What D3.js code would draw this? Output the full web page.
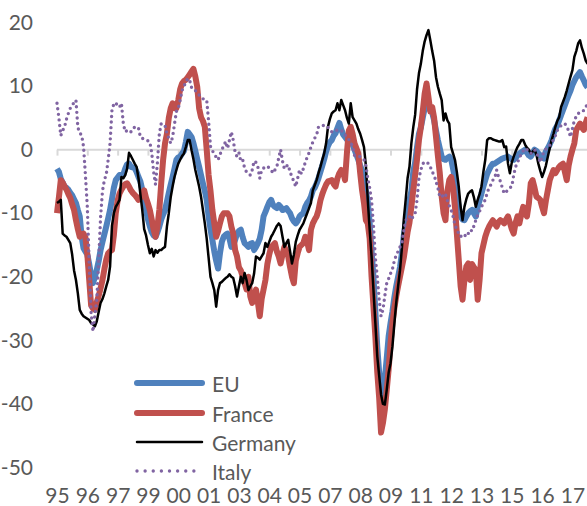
<!DOCTYPE html>
<html>
<head>
<meta charset="utf-8">
<script src="https://cdn.jsdelivr.net/npm/d3@7"></script>
<style>
  html, body { margin: 0; padding: 0; background: #fff; }
  svg { display: block; }
  text { font-family: Lato, "Open Sans", sans-serif; fill: #595959; }
</style>
</head>
<body>
<svg id="chart" width="587" height="506"></svg>
<script>
// Monthly balances, January 1995 onwards (one row per year)
const startYear = 1995;

const eu = [
  -3.0,-3.5,-4.6,-5.2,-5.8,-6.0,-6.3,-6.8,-7.2,-7.8,-8.4,-9.5,
  -10.5,-13.7,-15.5,-16.0,-16.5,-18.0,-19.8,-21.0,-20.0,-18.9,-17.5,-15.8,
  -14.5,-13.3,-12.1,-10.8,-9.5,-7.8,-6.0,-4.8,-4.4,-4.0,-4.0,-3.9,
  -3.0,-2.3,-2.2,-2.7,-2.8,-2.9,-3.5,-4.3,-5.0,-6.3,-7.9,-9.5,
  -11.0,-12.1,-13.0,-13.5,-13.7,-13.0,-12.1,-11.0,-10.2,-9.5,-8.2,-6.8,
  -5.5,-4.3,-3.0,-1.6,-1.2,-1.1,-0.6,-0.2,1.2,2.8,2.4,2.0,
  1.0,-0.2,-1.5,-2.7,-4.0,-5.3,-6.5,-7.9,-10.5,-12.5,-14.2,-16.0,
  -17.5,-18.7,-16.3,-14.5,-13.7,-13.4,-13.2,-14.0,-15.3,-15.0,-14.2,-13.2,
  -12.8,-12.6,-13.8,-14.7,-15.0,-15.3,-14.8,-14.7,-15.8,-15.3,-14.7,-14.0,
  -12.6,-10.5,-9.8,-9.0,-8.3,-7.9,-8.7,-9.0,-9.2,-8.7,-9.0,-9.5,
  -9.4,-9.2,-9.6,-10.0,-10.8,-11.3,-11.6,-11.2,-10.5,-10.2,-10.0,-9.0,
  -8.4,-8.0,-7.4,-6.4,-6.0,-5.3,-4.5,-3.5,-2.5,-1.5,-0.3,0.6,
  1.2,1.5,2.2,2.6,3.4,4.2,3.2,2.4,2.0,1.6,1.5,1.4,
  0.8,0.0,-0.8,-1.6,-2.5,-3.3,-4.8,-6.5,-8.2,-11.5,-15.8,-20.0,
  -25.5,-31.0,-35.0,-38.0,-38.8,-36.0,-32.8,-29.4,-27.3,-25.5,-23.3,-21.5,
  -20.0,-18.5,-16.3,-13.5,-11.5,-10.3,-8.0,-6.5,-3.5,-2.0,0.4,2.5,
  3.5,5.0,6.5,8.3,7.0,6.2,5.8,4.6,3.0,1.5,0.2,-1.1,
  -1.5,-1.6,-1.3,-1.1,-1.5,-3.0,-4.5,-7.0,-9.0,-10.5,-11.0,-11.1,
  -10.5,-10.0,-9.7,-9.5,-10.0,-10.5,-9.0,-8.0,-6.9,-5.8,-4.8,-3.8,
  -3.2,-2.6,-2.2,-2.2,-2.0,-1.8,-1.6,-1.4,-1.3,-1.2,-1.1,-1.3,
  -1.5,-1.6,-1.3,-0.9,-0.6,-0.4,-0.2,0.0,-0.5,-0.9,-1.1,-0.6,
  0.0,-0.2,-0.6,-0.9,-1.2,-1.4,-0.3,0.2,0.8,1.5,2.5,3.3,
  3.8,4.6,5.4,6.2,7.0,7.8,8.6,9.3,10.2,10.8,11.4,11.8,
  12.2,11.5,10.9,10.2,9.8
];

const france = [
  -10.0,-7.5,-4.8,-5.2,-5.8,-6.3,-7.0,-7.6,-8.6,-9.5,-11.1,-12.5,
  -13.7,-13.4,-13.2,-13.8,-16.5,-20.5,-24.5,-25.0,-25.2,-24.0,-23.0,-21.8,
  -20.5,-18.8,-17.3,-16.3,-16.0,-15.8,-13.5,-10.0,-8.0,-6.9,-6.3,-5.8,
  -5.4,-5.3,-5.8,-6.4,-6.8,-7.1,-7.5,-7.9,-7.6,-7.0,-6.4,-7.6,
  -8.5,-9.5,-11.0,-12.6,-13.7,-12.1,-9.5,-5.3,-1.6,1.0,2.5,5.0,
  6.5,7.3,6.5,6.5,7.8,9.5,10.4,10.8,11.0,11.4,11.8,12.3,
  12.7,11.5,9.9,6.5,5.1,4.5,3.6,0.0,-4.0,-6.5,-9.5,-11.6,
  -13.7,-12.8,-11.6,-10.5,-10.0,-10.0,-10.0,-10.5,-12.1,-13.2,-15.8,-16.8,
  -18.5,-19.0,-20.0,-21.0,-22.0,-20.0,-23.1,-24.1,-23.0,-22.0,-24.0,-26.2,
  -23.5,-22.0,-20.5,-18.0,-16.5,-15.3,-15.0,-14.7,-16.0,-16.8,-17.9,-16.5,
  -15.3,-16.0,-16.8,-18.5,-20.0,-21.0,-17.5,-16.3,-15.3,-15.0,-14.7,-13.7,
  -14.5,-15.8,-12.6,-11.6,-11.0,-10.5,-9.5,-8.0,-7.0,-6.2,-5.5,-5.0,
  -4.9,-4.8,-5.4,-5.8,-4.5,-3.7,-3.2,-3.5,-4.8,-0.5,3.0,3.6,
  2.5,1.0,0.2,-0.6,-3.7,-6.4,-8.4,-11.1,-11.6,-14.0,-20.0,-24.7,
  -29.4,-35.0,-39.0,-44.5,-43.0,-40.9,-37.8,-34.6,-30.5,-27.3,-25.0,-23.1,
  -21.5,-20.0,-18.5,-17.0,-15.0,-13.0,-11.5,-9.0,-6.4,-4.0,-1.5,1.5,
  3.5,6.0,8.8,10.4,8.3,6.0,6.7,5.0,2.0,-1.0,-3.7,-7.4,
  -10.0,-11.1,-6.5,-4.8,-4.3,-6.0,-9.0,-13.2,-17.3,-21.5,-23.6,-20.5,
  -18.4,-17.9,-20.5,-18.0,-18.5,-18.9,-23.6,-20.5,-16.3,-15.0,-13.7,-12.8,
  -12.1,-11.6,-11.1,-11.6,-12.1,-11.4,-11.1,-11.3,-11.6,-11.0,-10.5,-11.5,
  -12.5,-13.2,-11.5,-10.5,-11.6,-10.2,-9.0,-10.0,-10.5,-8.5,-5.3,-4.8,
  -6.0,-7.4,-7.6,-7.9,-9.0,-10.0,-8.0,-6.4,-4.8,-4.0,-3.2,-3.7,
  -3.2,-2.7,-2.4,-2.2,-3.5,-4.8,-2.5,-1.1,0.0,1.0,3.1,3.6,
  4.1,3.5,3.1,4.2,5.1
];

const germany = [
  -8.4,-8.2,-7.9,-13.2,-13.5,-13.7,-14.2,-14.7,-16.5,-19.0,-20.5,-22.6,
  -25.2,-25.8,-26.2,-26.4,-26.6,-26.8,-27.3,-27.5,-27.8,-27.0,-25.5,-24.1,
  -23.5,-22.6,-21.5,-20.5,-18.4,-12.0,-10.0,-9.0,-8.5,-7.9,-4.3,-4.5,
  -4.0,-3.0,-0.5,-1.0,-1.6,-2.2,-2.7,-4.5,-7.0,-9.5,-12.5,-13.5,
  -15.0,-16.3,-15.6,-16.8,-15.8,-16.2,-15.8,-15.8,-15.5,-15.3,-12.1,-10.0,
  -7.5,-5.8,-4.3,-3.2,-2.2,-1.6,-1.0,-0.6,0.4,1.5,1.5,-0.1,
  -1.5,-3.2,-4.5,-5.8,-7.4,-9.5,-11.6,-14.0,-17.0,-20.0,-21.0,-22.1,
  -24.7,-22.1,-21.0,-20.8,-20.5,-20.2,-20.0,-19.6,-20.0,-20.2,-21.5,-23.1,
  -21.5,-20.0,-21.0,-19.4,-20.5,-22.1,-21.5,-21.0,-19.5,-16.8,-17.0,-17.3,
  -16.8,-16.3,-14.7,-15.3,-14.5,-13.7,-13.2,-12.6,-12.0,-11.6,-12.0,-13.7,
  -15.3,-14.7,-14.2,-16.0,-17.9,-16.5,-14.5,-13.5,-12.6,-12.1,-11.6,-10.8,
  -10.0,-9.2,-8.4,-6.4,-5.6,-4.8,-3.7,-2.7,-1.6,-0.6,1.0,3.6,
  4.8,5.7,6.0,6.2,7.3,6.2,7.8,7.0,6.2,5.0,4.1,7.3,
  5.1,4.6,4.1,3.2,2.5,1.5,0.4,-2.5,-7.9,-12.6,-16.8,-22.1,
  -27.3,-32.5,-35.5,-38.5,-40.0,-40.1,-37.8,-35.1,-33.6,-31.0,-27.5,-24.1,
  -21.5,-19.0,-15.5,-11.0,-7.9,-4.5,-2.7,1.0,3.5,5.5,9.5,12.0,
  13.5,15.5,17.0,18.0,18.8,17.2,15.5,14.0,11.4,9.9,8.8,7.8,
  4.6,5.7,4.6,4.1,0.4,-0.6,-1.6,-3.5,-5.8,-9.0,-11.1,-9.0,
  -7.8,-6.9,-6.6,-6.4,-7.5,-9.0,-7.9,-7.0,-5.8,-3.5,-1.6,1.5,
  1.8,1.8,1.6,1.5,1.4,1.3,1.3,1.5,0.4,0.5,-2.2,-3.7,
  -2.0,-1.1,-0.3,0.4,0.9,1.5,1.5,0.8,0.3,0.0,-0.6,-0.3,
  0.0,-0.8,-2.2,-3.3,-4.3,-3.5,-2.5,-1.1,0.2,1.5,2.5,3.6,
  4.5,5.1,6.7,7.5,8.3,9.3,10.4,11.5,12.5,14.6,15.5,16.7,
  17.2,16.0,15.1,14.0,13.5
];

const italy = [
  7.3,5.0,2.2,3.0,3.6,4.8,5.7,6.5,7.0,7.4,7.8,3.5,
  2.6,2.3,0.5,-4.0,-9.0,-18.0,-25.7,-28.6,-26.0,-23.6,-17.5,-10.6,
  -6.5,-4.8,-3.9,-1.6,1.0,6.2,7.2,7.4,6.8,6.7,7.3,4.1,
  2.8,3.0,3.1,2.8,3.0,3.6,3.5,3.4,2.0,1.8,1.6,1.5,
  1.4,1.2,-0.5,-3.5,-5.5,-2.0,2.5,4.1,3.9,3.8,2.5,1.8,
  1.0,2.0,4.0,6.0,6.5,7.8,9.3,10.0,10.6,11.2,10.9,9.8,
  9.4,9.3,9.0,8.6,8.3,8.0,7.9,7.8,4.5,0.5,-0.2,-0.6,
  -1.2,-1.6,-0.8,0.0,0.6,1.3,0.2,1.5,2.8,1.5,-0.4,-1.1,
  -0.5,-1.8,-1.6,-2.9,-3.5,-3.8,-4.0,-3.2,-1.8,-2.0,-2.7,-4.5,
  -3.2,-2.9,-2.7,-2.6,-2.9,-3.2,-3.7,-3.2,-2.7,-1.3,0.0,-1.8,
  -3.0,-2.6,-2.4,-3.5,-4.3,-5.0,-5.8,-4.5,-3.2,-3.8,-3.0,-2.0,
  -1.2,-0.5,0.4,1.2,1.8,2.3,3.6,3.7,3.8,3.8,3.8,3.5,
  3.2,2.8,3.0,3.1,3.0,3.1,3.0,2.8,2.3,2.0,1.6,1.2,
  0.4,-0.9,-1.0,-1.0,-1.1,-1.4,-1.6,-2.5,-4.5,-6.0,-8.0,-12.0,
  -17.0,-20.0,-23.5,-26.2,-25.2,-23.0,-21.0,-20.3,-19.5,-18.8,-17.5,-16.6,
  -16.0,-15.3,-14.7,-12.8,-11.2,-10.6,-10.5,-11.0,-10.5,-10.0,-7.9,-4.5,
  -3.2,-2.2,-2.0,-1.9,-2.2,-2.7,-3.5,-4.0,-5.0,-6.0,-7.4,-7.2,
  -7.4,-7.0,-8.0,-8.8,-9.5,-10.5,-11.8,-12.6,-13.2,-13.7,-13.3,-13.4,
  -13.7,-13.2,-12.6,-12.8,-12.0,-11.1,-10.3,-9.7,-9.0,-8.4,-7.9,-6.8,
  -6.0,-5.5,-4.8,-4.5,-3.2,-4.3,-5.0,-6.0,-6.9,-6.6,-6.4,-6.0,
  -5.8,-4.0,-2.7,-2.0,-1.4,-0.6,-0.2,0.2,0.0,-0.3,-0.6,-0.3,
  0.0,-0.5,-1.1,-2.0,-1.2,-0.2,0.1,0.4,0.7,1.0,1.6,2.2,
  3.0,3.4,3.8,4.0,4.1,3.6,3.0,2.0,3.3,4.6,5.2,5.7,
  5.8,5.9,6.2,6.8,7.0
];

// Category labels, one every 16 months starting January 1995
const labelStep = 16;
const xTickLabels = ["95","96","97","99","00","01","03","04","05","07","08","09","11","12","13","15","16","17"];
const yTickValues = [20, 10, 0, -10, -20, -30, -40, -50];

const seriesNames = ["EU", "France", "Germany", "Italy"];
const seriesData = [eu, france, germany, italy];
const seriesStyle = {
  "EU":      { color: "#4F81BD", width: 6,   dash: null },
  "France":  { color: "#C0504D", width: 6,   dash: null },
  "Germany": { color: "#000000", width: 2.5, dash: null },
  "Italy":   { color: "#8064A2", width: 3.4, dash: "0 5.6" }
};

const svg = d3.select("#chart");
const fontStack = "Lato, 'Open Sans', sans-serif";

const x = d3.scaleLinear().domain([0, 280]).range([57, 57 + 280 * 1.895]);
const y = d3.scaleLinear().domain([-50, 20]).range([467.5, 22.5]);

// Value axis labels (no line, no ticks); plain hyphen for negatives
const yAxis = svg.append("g")
  .attr("transform", "translate(36,0)")
  .call(d3.axisLeft(y).tickValues(yTickValues).tickSize(0).tickPadding(3)
    .tickFormat(d => String(d)));
yAxis.select(".domain").remove();
yAxis.selectAll("text").style("font-size", "21px").style("fill", "#595959")
  .style("font-family", fontStack);

// Horizontal axis line through zero with outward tick marks
const tickIdx = xTickLabels.map((_, k) => k * labelStep);
const zeroAxis = svg.append("g")
  .attr("transform", `translate(0,${y(0)})`)
  .call(d3.axisBottom(x).tickValues(tickIdx).tickSize(6).tickFormat(""));
zeroAxis.select(".domain")
  .attr("d", `M${x(0)},0H${x(280)}`)
  .attr("stroke", "#D9D9D9").attr("stroke-width", 2);
zeroAxis.selectAll(".tick line").attr("stroke", "#D9D9D9").attr("stroke-width", 2);

// Category labels along the bottom
const labelAxis = svg.append("g")
  .attr("transform", "translate(0,485)")
  .call(d3.axisBottom(x).tickValues(tickIdx).tickSize(0).tickPadding(3)
    .tickFormat((d, k) => xTickLabels[k]));
labelAxis.select(".domain").remove();
labelAxis.selectAll("text").style("font-size", "21px").style("fill", "#595959")
  .style("font-family", fontStack);

// Series lines
const line = d3.line()
  .x((d, i) => x(i))
  .y(d => y(d));

seriesNames.forEach((name, k) => {
  const st = seriesStyle[name];
  svg.append("path")
    .datum(seriesData[k])
    .attr("fill", "none")
    .attr("stroke", st.color)
    .attr("stroke-width", st.width)
    .attr("stroke-linejoin", "round")
    .attr("stroke-linecap", st.dash ? "round" : "butt")
    .attr("stroke-dasharray", st.dash)
    .attr("d", line);
});

// Legend
const legend = svg.append("g");
const legendY = [383, 413, 442, 471];
seriesNames.forEach((name, k) => {
  const st = seriesStyle[name];
  legend.append("line")
    .attr("x1", 137).attr("x2", 202)
    .attr("y1", legendY[k]).attr("y2", legendY[k])
    .attr("stroke", st.color)
    .attr("stroke-width", st.width)
    .attr("stroke-linecap", "round")
    .attr("stroke-dasharray", st.dash ? "0 8.125" : null);
  legend.append("text")
    .attr("x", 212).attr("y", legendY[k])
    .attr("dominant-baseline", "central")
    .style("font-size", "21px")
    .style("font-family", fontStack)
    .text(name);
});
</script>
</body>
</html>
